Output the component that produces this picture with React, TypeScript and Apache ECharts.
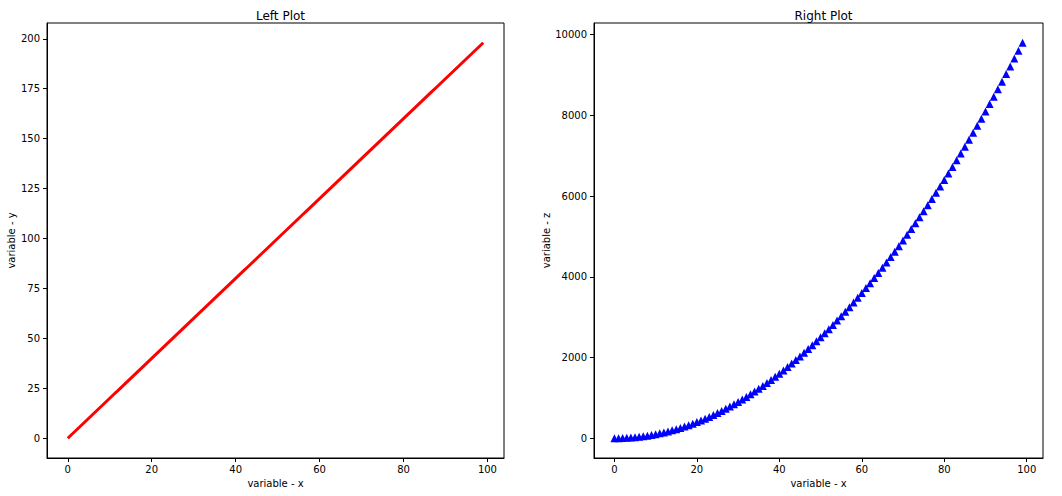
import React, { useEffect, useRef } from "react";
import * as echarts from "echarts";

const xValues = [
  0, 1, 2, 3, 4, 5, 6, 7, 8, 9, 10, 11, 12, 13, 14, 15, 16, 17, 18, 19,
  20, 21, 22, 23, 24, 25, 26, 27, 28, 29, 30, 31, 32, 33, 34, 35, 36, 37, 38, 39,
  40, 41, 42, 43, 44, 45, 46, 47, 48, 49, 50, 51, 52, 53, 54, 55, 56, 57, 58, 59,
  60, 61, 62, 63, 64, 65, 66, 67, 68, 69, 70, 71, 72, 73, 74, 75, 76, 77, 78, 79,
  80, 81, 82, 83, 84, 85, 86, 87, 88, 89, 90, 91, 92, 93, 94, 95, 96, 97, 98, 99,
];

const yValues = [
  0, 2, 4, 6, 8, 10, 12, 14, 16, 18, 20, 22, 24, 26, 28, 30, 32, 34, 36, 38,
  40, 42, 44, 46, 48, 50, 52, 54, 56, 58, 60, 62, 64, 66, 68, 70, 72, 74, 76, 78,
  80, 82, 84, 86, 88, 90, 92, 94, 96, 98, 100, 102, 104, 106, 108, 110, 112, 114, 116, 118,
  120, 122, 124, 126, 128, 130, 132, 134, 136, 138, 140, 142, 144, 146, 148, 150, 152, 154, 156, 158,
  160, 162, 164, 166, 168, 170, 172, 174, 176, 178, 180, 182, 184, 186, 188, 190, 192, 194, 196, 198,
];

const zValues = [
  0, 1, 4, 9, 16, 25, 36, 49, 64, 81,
  100, 121, 144, 169, 196, 225, 256, 289, 324, 361,
  400, 441, 484, 529, 576, 625, 676, 729, 784, 841,
  900, 961, 1024, 1089, 1156, 1225, 1296, 1369, 1444, 1521,
  1600, 1681, 1764, 1849, 1936, 2025, 2116, 2209, 2304, 2401,
  2500, 2601, 2704, 2809, 2916, 3025, 3136, 3249, 3364, 3481,
  3600, 3721, 3844, 3969, 4096, 4225, 4356, 4489, 4624, 4761,
  4900, 5041, 5184, 5329, 5476, 5625, 5776, 5929, 6084, 6241,
  6400, 6561, 6724, 6889, 7056, 7225, 7396, 7569, 7744, 7921,
  8100, 8281, 8464, 8649, 8836, 9025, 9216, 9409, 9604, 9801,
];

const xTicks = [0, 20, 40, 60, 80, 100];
const leftYTicks = [0, 25, 50, 75, 100, 125, 150, 175, 200];
const rightYTicks = [0, 2000, 4000, 6000, 8000, 10000];

const FONT = "DejaVu Sans";

function axisBase(ticks: number[], margin: number) {
  return {
    type: "value" as const,
    axisLine: { show: true, onZero: false, lineStyle: { color: "#000", width: 1 } },
    axisTick: {
      show: true,
      inside: false,
      length: 4,
      customValues: ticks,
      lineStyle: { color: "#000", width: 1 },
    },
    axisLabel: {
      customValues: ticks,
      color: "#000",
      fontSize: 10,
      fontFamily: FONT,
      margin,
      formatter: (v: number) => String(v),
    },
    splitLine: { show: false },
    nameTextStyle: { color: "#000", fontSize: 10, fontFamily: FONT },
    nameLocation: "middle" as const,
  };
}

export default function App() {
  const ref = useRef<HTMLDivElement>(null);
  useEffect(() => {
    document.body.style.margin = "0";
    if (!ref.current) return;
    const chart = echarts.init(ref.current, null, { renderer: "svg" });
    const linePts = xValues.map((x, i) => [x, yValues[i]]);
    const triPts = xValues.map((x, i) => [x, zValues[i]]);
    const xMin = -4.95;
    const xMax = 103.95;
    chart.setOption({
      animation: false,
      backgroundColor: "#fff",
      title: [
        {
          text: "Left Plot",
          left: 275.5,
          top: 5,
          textAlign: "center",
          textStyle: { fontSize: 12, fontWeight: "normal", color: "#000", fontFamily: FONT },
        },
        {
          text: "Right Plot",
          left: 818.5,
          top: 5,
          textAlign: "center",
          textStyle: { fontSize: 12, fontWeight: "normal", color: "#000", fontFamily: FONT },
        },
      ],
      grid: [
        { left: 47, top: 23, width: 457, height: 435, show: true, borderColor: "#000", borderWidth: 1, backgroundColor: "transparent" },
        { left: 594, top: 23, width: 449, height: 435, show: true, borderColor: "#000", borderWidth: 1, backgroundColor: "transparent" },
      ],
      xAxis: [
        { ...axisBase(xTicks, 6), gridIndex: 0, min: xMin, max: xMax, name: "variable - x", nameGap: 20 },
        { ...axisBase(xTicks, 6), gridIndex: 1, min: xMin, max: xMax, name: "variable - x", nameGap: 20 },
      ],
      yAxis: [
        { ...axisBase(leftYTicks, 7), gridIndex: 0, min: -9.9, max: 207.9, name: "variable - y", nameGap: 31 },
        { ...axisBase(rightYTicks, 7), gridIndex: 1, min: -490.05, max: 10291.05, name: "variable - z", nameGap: 42 },
      ],
      series: [
        {
          type: "line",
          xAxisIndex: 0,
          yAxisIndex: 0,
          data: linePts,
          showSymbol: false,
          lineStyle: { color: "#ff0000", width: 3 },
          itemStyle: { color: "#ff0000" },
        },
        {
          type: "scatter",
          xAxisIndex: 1,
          yAxisIndex: 1,
          data: triPts,
          symbol: "triangle",
          symbolSize: 8,
          itemStyle: { color: "#0000ff", opacity: 1 },
        },
      ],
    });
    return () => chart.dispose();
  }, []);
  return <div ref={ref} style={{ width: 1062, height: 496 }} />;
}
